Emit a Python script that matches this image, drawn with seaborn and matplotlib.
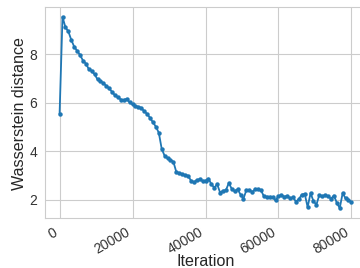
import numpy as np
import pandas as pd
import seaborn as sns
import matplotlib
matplotlib.use("Agg")
import matplotlib.pyplot as plt

# logged every 800 iterations
iterations = list(range(0, 80001, 800))
wasserstein = [
    5.55, 9.55, 9.12, 8.95, 8.60, 8.32, 8.15, 7.98, 7.75, 7.62,
    7.40, 7.32, 7.18, 6.97, 6.89, 6.82, 6.70, 6.60, 6.45, 6.31,
    6.23, 6.14, 6.12, 6.17, 6.02, 5.94, 5.87, 5.84, 5.80, 5.65,
    5.55, 5.38, 5.20, 5.02, 4.77, 4.10, 3.82, 3.72, 3.65, 3.57,
    3.15, 3.10, 3.07, 3.02, 3.00, 2.80, 2.72, 2.82, 2.85, 2.78,
    2.80, 2.88, 2.65, 2.50, 2.65, 2.30, 2.38, 2.40, 2.70, 2.45,
    2.36, 2.44, 2.22, 2.05, 2.40, 2.40, 2.33, 2.43, 2.45, 2.40,
    2.15, 2.13, 2.13, 2.12, 1.98, 2.16, 2.20, 2.13, 2.17, 2.06,
    2.10, 1.93, 2.03, 2.22, 2.25, 1.70, 2.28, 1.95, 1.80, 2.20,
    2.15, 2.20, 2.15, 2.05, 2.18, 1.88, 1.66, 2.28, 2.06, 2.01,
    1.90,
]

df = pd.DataFrame({"Iteration": iterations, "Wasserstein distance": wasserstein})

sns.set_style("whitegrid")
plt.rcParams['font.family'] = ['Liberation Sans', 'DejaVu Sans']

fig = plt.figure(figsize=(3.6, 2.68), dpi=100)
ax = fig.add_axes([45 / 360, 50.3 / 268, 321 / 360, 210.4 / 268])

sns.lineplot(data=df, x="Iteration", y="Wasserstein distance", ax=ax,
             marker="o", markersize=3.2, markeredgewidth=0,
             linewidth=1.3, color="#1f77b4")

ax.set_xticks([0, 20000, 40000, 60000, 80000])
ax.set_yticks([2, 4, 6, 8])
ax.tick_params(axis="both", labelsize=10, colors=".2", pad=2)
plt.setp(ax.get_xticklabels(), rotation=30, ha="right")
ax.set_xlabel("Iteration", fontsize=11.6, color=".15")
ax.set_ylabel("Wasserstein distance", fontsize=11.6, color=".15")
ax.xaxis.set_label_coords(0.5, -0.172)
ax.yaxis.set_label_coords(-0.055, 0.495)

fig.savefig("out.png", dpi=100)
plt.close()
